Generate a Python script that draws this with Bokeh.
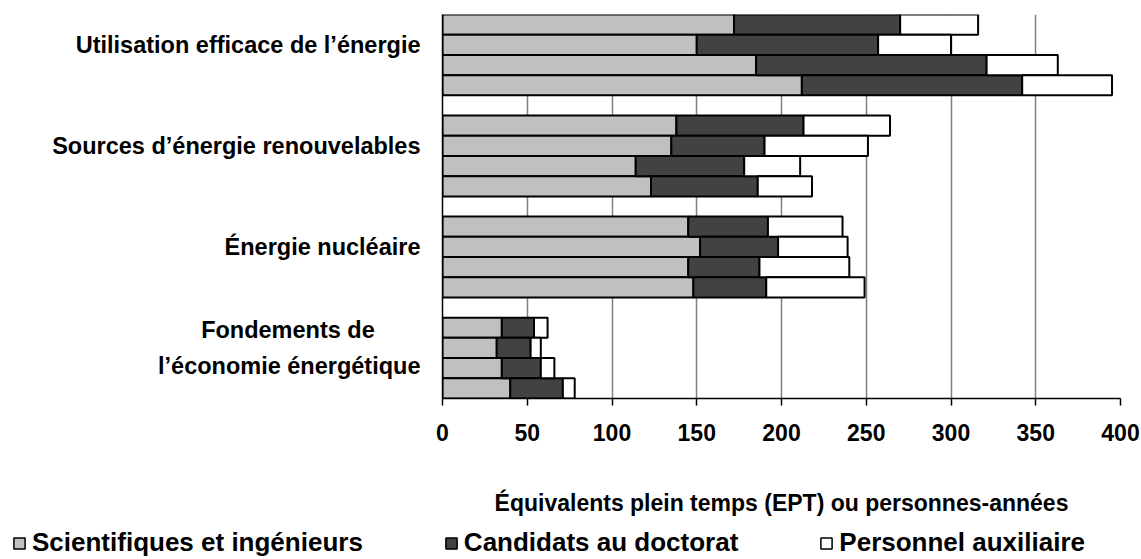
from bokeh.plotting import figure
from bokeh.models import ColumnDataSource, FixedTicker, Range1d, Legend, LegendItem
from bokeh.layouts import column
from bokeh.embed import file_html
from bokeh.resources import INLINE

# ---- data ----
categories = ["Utilisation efficace de l’énergie",
              "Sources d’énergie renouvelables",
              "Énergie nucléaire",
              "Fondements de\nl’économie énergétique"]
series_names = ["Scientifiques et ingénieurs", "Candidats au doctorat", "Personnel auxiliaire"]
scientifiques = [[172, 150, 185, 212], [138, 135, 114, 123], [145, 152, 145, 148], [35, 32, 35, 40]]
doctorat = [[98, 107, 136, 130], [75, 55, 64, 63], [47, 46, 42, 43], [19, 20, 23, 31]]
auxiliaire = [[46, 43, 42, 53], [51, 61, 33, 32], [44, 41, 53, 58], [8, 6, 8, 7]]
x_ticks = [0, 50, 100, 150, 200, 250, 300, 350, 400]
colors = ["#C0C0C0", "#424242", "#FFFFFF"]

FONT = "Liberation Sans"

# ---- layout of rows: 4 bars per group, one empty slot between groups ----
n_groups = len(categories)
bars_per_group = len(scientifiques[0])
n_slots = n_groups * (bars_per_group + 1) - 1

ys, s_vals, d_vals, a_vals = [], [], [], []
for g in range(n_groups):
    for i in range(bars_per_group):
        slot = g * (bars_per_group + 1) + i
        ys.append(n_slots - slot - 0.5)
        s_vals.append(scientifiques[g][i])
        d_vals.append(doctorat[g][i])
        a_vals.append(auxiliaire[g][i])

source = ColumnDataSource(dict(y=ys, s=s_vals, d=d_vals, a=a_vals))

W, H = 1140, 522
LEG_H = 36
LEFT, RIGHT, TOP, BOTTOM = 442, 1120, 14, 398
p = figure(width=W, height=H, output_backend="svg", toolbar_location=None,
           x_range=Range1d(0, 400), y_range=Range1d(0, n_slots),
           min_border_left=LEFT, min_border_right=W - RIGHT,
           min_border_top=TOP, min_border_bottom=H - BOTTOM)
p.outline_line_color = None
p.background_fill_color = "white"

renderers = p.hbar_stack(["s", "d", "a"], y="y", height=1.0, source=source,
                         fill_color=colors, line_color="black", line_width=2)

# x axis
xa = p.xaxis[0]
xa.ticker = FixedTicker(ticks=x_ticks)
xa.axis_line_color = "black"
xa.axis_line_width = 1.5
xa.major_tick_line_color = "black"
xa.major_tick_line_width = 1.5
xa.major_tick_out = 7
xa.major_tick_in = 0
xa.minor_tick_line_color = None
xa.major_label_text_font = FONT
xa.major_label_text_font_style = "bold"
xa.major_label_text_font_size = "23px"
xa.major_label_text_color = "black"
xa.major_label_standoff = 18
xa.axis_label = "Équivalents plein temps (EPT) ou personnes-années"
xa.axis_label_text_font = FONT
xa.axis_label_text_font_style = "bold"
xa.axis_label_text_font_size = "23px"
xa.axis_label_text_color = "black"
xa.axis_label_standoff = 46

# y axis with category labels; the first line of the two-line label is
# padded with no-break spaces so that it sits centred over the second line
ya = p.yaxis[0]
label_pos = [n_slots - (g * (bars_per_group + 1) + 1.5) for g in range(n_groups)]


def centred(cat):
    lines = cat.split("\n")
    if len(lines) == 1:
        return cat
    return lines[0] + "\u00a0" * 7 + "\n" + lines[1]


ya.ticker = FixedTicker(ticks=label_pos)
ya.major_label_overrides = {pos: centred(cat) for pos, cat in zip(label_pos, categories)}
ya.axis_line_color = "black"
ya.axis_line_width = 1.5
ya.major_tick_line_color = None
ya.minor_tick_line_color = None
ya.major_tick_out = 0
ya.major_tick_in = 0
ya.major_label_standoff = 22
ya.major_label_text_font = FONT
ya.major_label_text_font_style = "bold"
ya.major_label_text_font_size = "23.5px"
ya.major_label_text_line_height = 1.35
ya.major_label_text_color = "black"

# grid
p.xgrid.grid_line_color = "#808080"
p.xgrid.grid_line_width = 1.5
p.ygrid.grid_line_color = None

# ---- legend strip below the chart (its own frame spans the full width) ----
q = figure(width=W, height=LEG_H, output_backend="svg", toolbar_location=None,
           x_range=Range1d(0, 400), y_range=Range1d(0, n_slots),
           min_border_left=0, min_border_right=0, min_border_top=0, min_border_bottom=0)
q.frame_align = False
q.axis.visible = False
q.grid.visible = False
q.outline_line_color = None
leg_renderers = q.hbar_stack(["s", "d", "a"], y="y", height=1.0, source=source,
                             fill_color=colors, line_color="black", line_width=1.5)
for r in leg_renderers:
    r.visible = False
lg = Legend(items=[LegendItem(label=name, renderers=[r]) for name, r in zip(series_names, leg_renderers)])
lg.orientation = "horizontal"
lg.location = (12, 0)
lg.padding = 0
lg.margin = 0
lg.spacing = 81
lg.glyph_width = 14
lg.glyph_height = 14
lg.label_standoff = 6
lg.label_text_font = FONT
lg.label_text_font_style = "bold"
lg.label_text_font_size = "26px"
lg.label_text_color = "black"
lg.inactive_fill_alpha = 0
lg.border_line_color = None
lg.background_fill_alpha = 0
lg.click_policy = "none"
q.add_layout(lg, "center")

layout = column(p, q, spacing=0)
open("out.html", "w").write(file_html(layout, INLINE))
